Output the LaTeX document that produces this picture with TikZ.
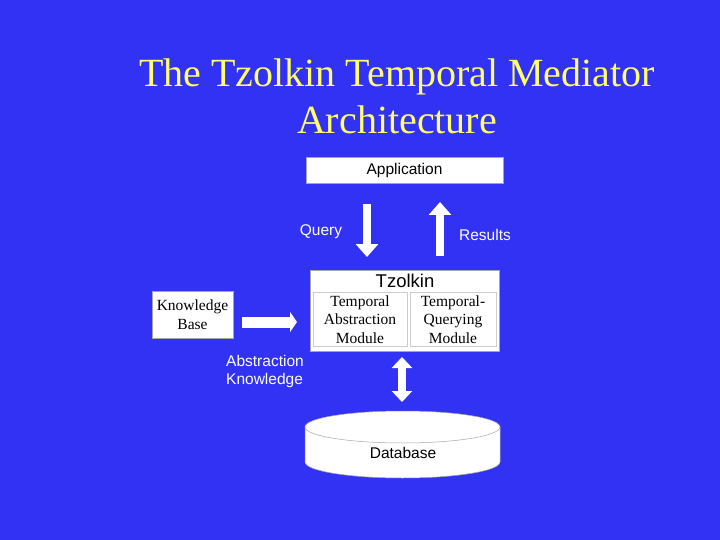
\documentclass[tikz,border=0pt]{standalone}
\usepackage{fontspec}
\setmainfont{Liberation Serif}
\setsansfont{Liberation Sans}
\usetikzlibrary{arrows.meta}
\definecolor{bg}{RGB}{50,50,245}
\definecolor{ttl}{RGB}{255,255,110}
\begin{document}
\begin{tikzpicture}[x=1pt,y=-1pt,
  box/.style={draw=gray!70,line width=0.6pt,fill=white,inner sep=0pt},
  sbox/.style={draw=gray!40,line width=0.5pt,fill=white,inner sep=0pt,align=center,font=\fontsize{15.5}{18.5}\selectfont},
  lbl/.style={text=white,font=\sffamily\fontsize{15.5}{18.5}\selectfont,align=left},
  bigarrow/.style={draw=white,line width=8pt,-{Triangle[width=22pt,length=13pt]}},
  dblarrow/.style={draw=white,line width=8pt,{Triangle[width=20pt,length=11pt]}-{Triangle[width=20pt,length=11pt]}}]
\fill[bg] (0,0) rectangle (720,540);
\useasboundingbox (0,0) rectangle (720,540);
% title
\node[text=ttl,font=\fontsize{40}{47}\selectfont,align=center] (title) at (397,96) {The Tzolkin Temporal Mediator\\Architecture};
% application
\node[box,minimum width=197pt,minimum height=26pt,font=\sffamily\fontsize{15.5}{18}\selectfont] (app) at (404.5,170) {Application};
% tzolkin
\node[box,minimum width=189pt,minimum height=81pt] (tz) at (404.5,310.5) {};
\node[font=\sffamily\fontsize{18.5}{21}\selectfont] (tzl) at (405,281) {Tzolkin};
\node[sbox,minimum width=94pt,minimum height=54pt] (tam) at (360,319.5) {Temporal\\Abstraction\\Module};
\node[sbox,minimum width=86pt,minimum height=54pt] (tqm) at (453,319.5) {Temporal-\\Querying\\Module};
% knowledge base
\node[box,minimum width=81pt,minimum height=47pt,align=center,font=\fontsize{15.5}{19}\selectfont] (kb) at (192.5,314.5) {Knowledge\\Base};
% database
\fill[white] (305,427) -- (305,462) arc[start angle=180,end angle=0,x radius=97.5,y radius=16] -- (500,427) -- cycle;
\draw[gray!70,line width=0.5pt] (305,427) -- (305,462) arc[start angle=180,end angle=0,x radius=97.5,y radius=16] -- (500,427);
\draw[gray!70,line width=0.5pt,fill=white] (402.5,427) ellipse[x radius=97.5,y radius=16];
\node[font=\sffamily\fontsize{15.5}{18}\selectfont] (db) at (403,453) {Database};
% arrows
\coordinate (q1) at (367,204);
\coordinate (q2) at (367,257);
\coordinate (r1) at (440,256);
\coordinate (r2) at (440,202);
\coordinate (k1) at (242,322);
\coordinate (k2) at (297,322);
\coordinate (d1) at (402,357);
\coordinate (d2) at (402,402);
\draw[bigarrow] (q1) -- (q2);
\draw[bigarrow] (r1) -- (r2);
\draw[draw=white,line width=11pt,-{Triangle[width=20pt,length=7pt]}] (k1) -- (k2);
\draw[dblarrow] (d1) -- (d2);
% labels
\node[lbl] (ql) at (321,232) {Query};
\node[lbl] (rl) at (485,235) {Results};
\node[lbl] (akl) at (265,371.5) {Abstraction\\Knowledge};
\end{tikzpicture}
\end{document}
